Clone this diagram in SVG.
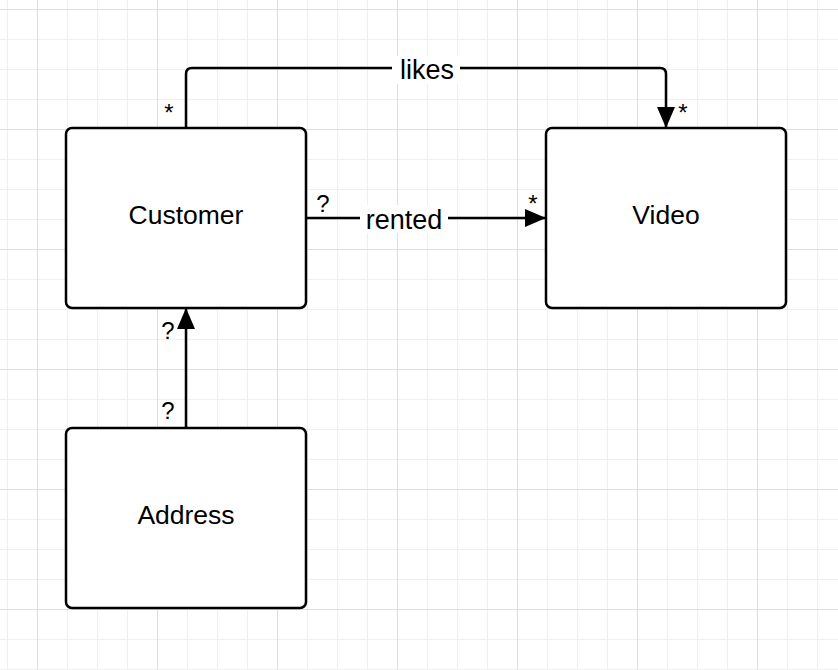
<svg xmlns="http://www.w3.org/2000/svg" width="838" height="670" viewBox="0 0 838 670">
<defs>
<pattern id="minor" x="7" y="9" width="30" height="30" patternUnits="userSpaceOnUse">
<path d="M0,0 V30 M0,0 H30" stroke="#efefef" stroke-width="2" fill="none"/>
</pattern>
<pattern id="major" x="37" y="9" width="120" height="120" patternUnits="userSpaceOnUse">
<path d="M0,0 V120 M0,0 H120" stroke="#dedede" stroke-width="2" fill="none"/>
</pattern>
<marker id="arrow" viewBox="0 0 21 18" refX="21" refY="9" markerWidth="21" markerHeight="18" markerUnits="userSpaceOnUse" orient="auto">
<path d="M0,0 L21,9 L0,18 Z" fill="#000"/>
</marker>
</defs>
<style>
.node{fill:#fff;stroke:#000;stroke-width:2.5}
.name{font-family:"Liberation Sans",Arial,sans-serif;font-size:26.5px;fill:#000;text-anchor:middle}
.lbl{font-family:"Liberation Sans",Arial,sans-serif;font-size:27px;fill:#000;text-anchor:middle}
.mult{font-family:"Liberation Sans",Arial,sans-serif;font-size:24px;fill:#000;text-anchor:middle}
.edge{fill:none;stroke:#000;stroke-width:2.5}
</style>
<rect width="838" height="670" fill="#fff"/>
<rect width="838" height="670" fill="url(#minor)"/>
<rect width="838" height="670" fill="url(#major)"/>
<g id="connectors">
<path class="edge" d="M186,128 V74 Q186,68 192,68 H660 Q666,68 666,74 V128" marker-end="url(#arrow)"/>
<rect x="392" y="56" width="68" height="28" fill="#fff"/>
<text class="lbl" x="427" y="79">likes</text>
<text class="mult" x="169" y="121">*</text>
<text class="mult" x="683" y="121">*</text>
<path class="edge" d="M306,218 H546" marker-end="url(#arrow)"/>
<rect x="360" y="205" width="88" height="28" fill="#fff"/>
<text class="lbl" x="404" y="229">rented</text>
<text class="mult" x="323" y="212">?</text>
<text class="mult" x="533" y="212">*</text>
<path class="edge" d="M186,428 V308" marker-end="url(#arrow)"/>
<text class="mult" x="168" y="339">?</text>
<text class="mult" x="168" y="419">?</text>
</g>
<g id="customer">
<rect class="node" x="66" y="128" width="240" height="180" rx="6"/>
<text class="name" x="186" y="224">Customer</text>
</g>
<g id="video">
<rect class="node" x="546" y="128" width="240" height="180" rx="6"/>
<text class="name" x="666" y="224">Video</text>
</g>
<g id="address">
<rect class="node" x="66" y="428" width="240" height="180" rx="6"/>
<text class="name" x="186" y="524">Address</text>
</g>
</svg>
